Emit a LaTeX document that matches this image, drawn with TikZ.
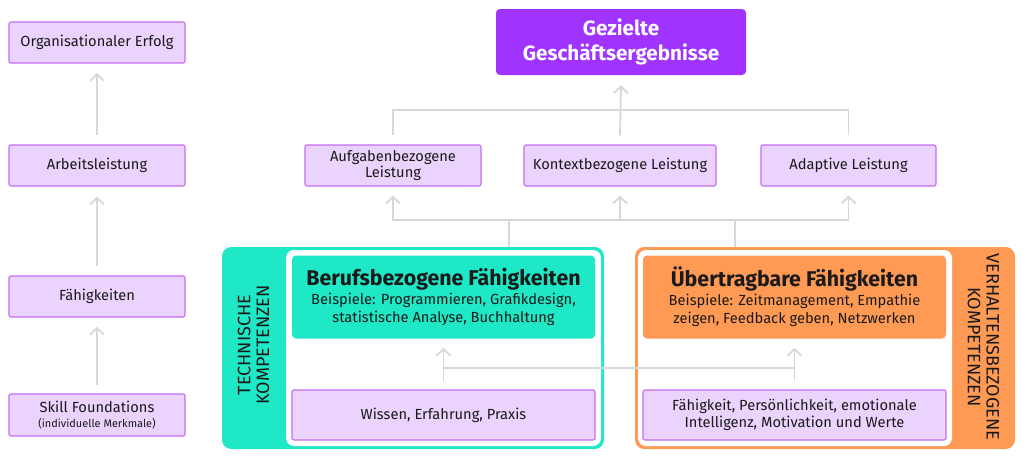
\documentclass[tikz,border=0pt]{standalone}
\usepackage{fontspec}
\setmainfont{Fira Sans}
\usetikzlibrary{arrows.meta,calc}
\definecolor{lpfill}{HTML}{EAD3FD}
\definecolor{lpdraw}{HTML}{C46CF5}
\definecolor{toppurple}{HTML}{A033FF}
\definecolor{teal1}{HTML}{1EE8C6}
\definecolor{orange1}{HTML}{FF9A55}
\definecolor{connc}{HTML}{D8D8D8}
\definecolor{txt}{HTML}{1A1A1A}
\tikzset{
  pbox/.style={draw=lpdraw, fill=lpfill, line width=0.8pt, rounded corners=1.5pt, inner sep=0pt, align=center, text=txt, font=\fontsize{11}{12.5}\selectfont},
  conn/.style={draw=connc, line width=1.4pt},
  arr/.style={conn, -{Straight Barb[length=5pt,width=10.5pt,line width=1.4pt]}},
  grp/.style={rounded corners=7pt, inner sep=0pt, minimum width=#1},
  skbox/.style={rounded corners=3pt, inner sep=0pt, minimum width=303*0.75pt, minimum height=83*0.75pt, align=center, text=txt, font=\fontsize{11}{13.5}\selectfont},
}
\begin{document}
\begin{tikzpicture}[x=0.75pt,y=-0.75pt]
\useasboundingbox (0,0) rectangle (1024,458);
% left column
\node[pbox, minimum width=176*0.75pt, minimum height=41*0.75pt] (org) at (97,42.5) {Organisationaler Erfolg};
\node[pbox, minimum width=176*0.75pt, minimum height=41*0.75pt] (arb) at (97,165.5) {Arbeitsleistung};
\node[pbox, minimum width=176*0.75pt, minimum height=41*0.75pt] (fae) at (97,296.5) {Fähigkeiten};
\node[pbox, minimum width=176*0.75pt, minimum height=42*0.75pt] (sf) at (97,415) {Skill Foundations\\[-1.5pt]{\fontsize{8.2}{9.5}\selectfont(individuelle Merkmale)}};
\draw[arr, shorten <=6pt, shorten >=7pt] (sf.north) -- (fae.south);
\draw[arr, shorten <=6.75pt, shorten >=7.5pt] (fae.north) -- (arb.south);
\draw[arr, shorten <=6.75pt, shorten >=7pt] (arb.north) -- (org.south);
% top
\node[fill=toppurple, rounded corners=3pt, minimum width=250*0.75pt, minimum height=66*0.75pt, text=white, align=center, font=\fontsize{15.5}{18.5}\selectfont\bfseries] (top) at (621,42) {Gezielte\\Geschäftsergebnisse};
\node[pbox, minimum width=176*0.75pt, minimum height=41*0.75pt] (auf) at (393,165.5) {Aufgabenbezogene\\Leistung};
\node[pbox, minimum width=192*0.75pt, minimum height=41*0.75pt] (kon) at (620,165.5) {Kontextbezogene Leistung};
\node[pbox, minimum width=175*0.75pt, minimum height=41*0.75pt] (ada) at (848.5,165.5) {Adaptive Leistung};
\coordinate (tj) at (620,110);
\coordinate (bj) at (620,220);
\draw[conn] ([yshift=6.75pt]auf.north) |- (tj) -| ([yshift=6.75pt]ada.north);
\draw[arr] ([yshift=6.75pt]kon.north) -- ([yshift=-7.5pt]top.south);
% groups
\node[grp=382*0.75pt, fill=teal1, minimum height=202*0.75pt] (tg) at (413,348) {};
\node[fill=white, rounded corners=6pt, inner sep=0pt, minimum width=315*0.75pt, minimum height=196*0.75pt] (tgi) at (443.5,348) {};
\node[grp=380*0.75pt, fill=orange1, minimum height=202*0.75pt] (og) at (825,348) {};
\node[fill=white, rounded corners=6pt, inner sep=0pt, minimum width=314*0.75pt, minimum height=196*0.75pt] (ogi) at (795,348) {};
\draw[conn] ($(tg.north west)!0.75!(tg.north east)$) |- (bj);
\draw[conn] ($(og.north west)!0.263!(og.north east)$) |- (bj);
\draw[arr] (bj) -- ([yshift=-6.75pt]kon.south);
\draw[arr] (bj) -| ([yshift=-6.75pt]auf.south);
\draw[arr] (bj) -| ([yshift=-6.75pt]ada.south);
% teal inner
\node[skbox, fill=teal1] (ber) at (443.5,297)
  {{\fontsize{16}{18}\selectfont\bfseries Berufsbezogene Fähigkeiten}\\[1pt]
   Beispiele: Programmieren, Grafikdesign,\\statistische Analyse, Buchhaltung};
\node[pbox, minimum width=303*0.75pt, minimum height=50*0.75pt] (wis) at (443.5,415) {Wissen, Erfahrung, Praxis};
\node[rotate=90, align=center, text=txt, font=\fontsize{13.5}{14}\selectfont] (tk) at (253.5,345) {TECHNISCHE\\KOMPETENZEN};
% orange inner
\node[skbox, fill=orange1] (ueb) at (794.5,297)
  {{\fontsize{16}{18}\selectfont\bfseries Übertragbare Fähigkeiten}\\[1pt]
   Beispiele: Zeitmanagement, Empathie\\zeigen, Feedback geben, Netzwerken};
\node[pbox, minimum width=303*0.75pt, minimum height=50*0.75pt, font=\fontsize{11}{13}\selectfont] (fpm) at (794.5,415) {Fähigkeit, Persönlichkeit, emotionale\\Intelligenz, Motivation und Werte};
\node[rotate=-90, align=center, text=txt, font=\fontsize{13.5}{14}\selectfont] (vk) at (983.5,347) {VERHALTENSBEZOGENE\\KOMPETENZEN};
% inner connectors
\coordinate (mid) at (618,368);
\draw[conn] (wis.north |- mid) -- (fpm.north |- mid);
\draw[arr] ([yshift=6pt]wis.north) -- ([yshift=-6.75pt]ber.south);
\draw[arr] ([yshift=6pt]fpm.north) -- ([yshift=-6.75pt]ueb.south);
\end{tikzpicture}
\end{document}
